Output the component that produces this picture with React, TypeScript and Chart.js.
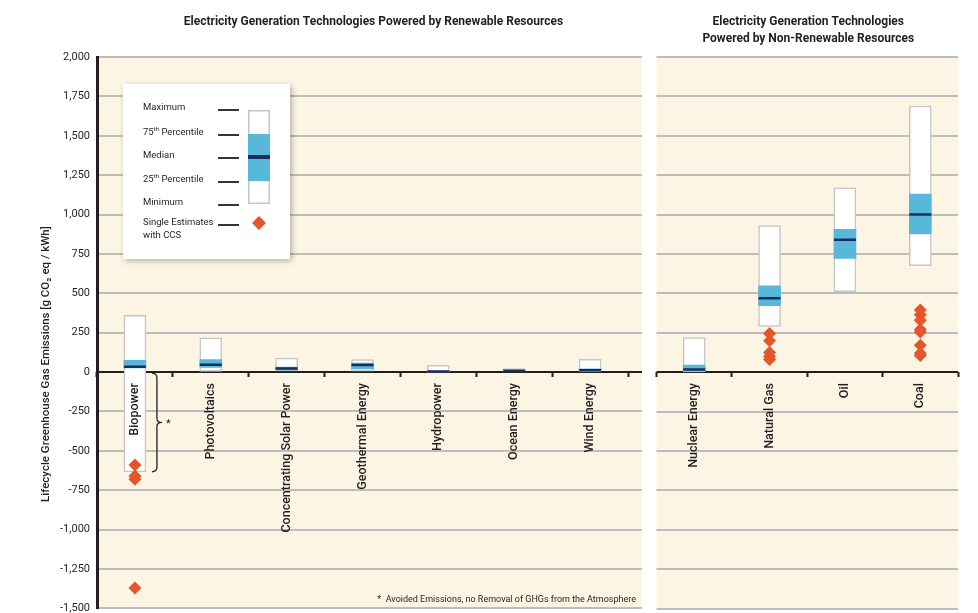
import React, { useEffect, useRef } from "react";
import { Chart, registerables } from "chart.js";
Chart.register(...registerables);

// ---------- data ----------
const renewCats = ["Biopower", "Photovoltaics", "Concentrating Solar Power", "Geothermal Energy", "Hydropower", "Ocean Energy", "Wind Energy"];
const renewMin = [-633, 5, 7, 6, 0, 2, 2];
const renewQ1 = [26, 29, 14, 20, 3, 6, 8];
const renewMed = [34, 46, 22, 45, 4, 8, 12];
const renewQ3 = [74, 80, 32, 57, 7, 9, 20];
const renewMax = [360, 217, 89, 79, 43, 23, 81];
const bioCcs = [-590, -660, -680, -1370];

const nonRenewCats = ["Nuclear Energy", "Natural Gas", "Oil", "Coal"];
const nonRenewMin = [1, 290, 510, 675];
const nonRenewQ1 = [8, 422, 722, 877];
const nonRenewMed = [16, 469, 840, 1001];
const nonRenewQ3 = [45, 548, 907, 1130];
const nonRenewMax = [220, 930, 1170, 1689];
const gasCcs = [245, 200, 125, 100, 80];
const coalCcs = [395, 365, 330, 270, 255, 170, 120, 105];

const yTickValues = [-1500, -1250, -1000, -750, -500, -250, 0, 250, 500, 750, 1000, 1250, 1500, 1750, 2000];
const yMin = -1500;
const yMax = 2000;

const leftTitle = "Electricity Generation Technologies Powered by Renewable Resources";
const rightTitle = ["Electricity Generation Technologies", "Powered by Non-Renewable Resources"];
const yTitle = "Lifecycle Greenhouse Gas Emissions [g CO\u2082 eq / kWh]";
const footnote = "*  Avoided Emissions, no Removal of GHGs from the Atmosphere";

// ---------- style ----------
const FONT = "Roboto, 'Noto Sans', sans-serif";
const CREAM = "#fdf5e4";
const GRID = "#bdbdbd";
const BLUE = "#58b8da";
const NAVY = "#1b2d5a";
const ORANGE = "#e5552a";
const TEXT = "#231f20";
const BOXBORDER = "#c6c6c6";
const CANVAS_H = 622;

function makeDatasets(cats: string[], mins: number[], q1: number[], med: number[], q3: number[], maxs: number[], ccs: { x: string; y: number }[]) {
  return [
    {
      type: "bar" as const,
      data: mins.map((m, i) => [m, maxs[i]]),
      backgroundColor: "#ffffff",
      borderColor: BOXBORDER,
      borderWidth: 1.5,
      borderSkipped: false,
      barThickness: 22,
      grouped: false,
      order: 3,
    },
    {
      type: "bar" as const,
      data: q1.map((v, i) => [v, q3[i]]),
      backgroundColor: BLUE,
      borderWidth: 0,
      barThickness: 22,
      grouped: false,
      order: 2,
    },
    {
      type: "line" as const,
      data: med,
      showLine: false,
      pointStyle: "line",
      pointRadius: 11,
      pointHoverRadius: 11,
      pointBorderWidth: 2.5,
      pointBorderColor: NAVY,
      borderColor: NAVY,
      order: 1,
    },
    {
      type: "line" as const,
      data: ccs,
      showLine: false,
      pointStyle: "rectRot",
      pointRadius: 6.5,
      pointHoverRadius: 6.5,
      pointBackgroundColor: ORANGE,
      pointBorderWidth: 0,
      borderColor: ORANGE,
      order: 0,
    },
  ];
}

function panelBackground(chart: any, ext: number) {
  const { ctx, chartArea: a, scales } = chart;
  const y = scales.y;
  const right = a.right + ext;
  ctx.save();
  ctx.fillStyle = CREAM;
  ctx.fillRect(a.left, a.top, right - a.left, a.bottom - a.top);
  ctx.strokeStyle = GRID;
  ctx.lineWidth = 2;
  yTickValues.forEach((v) => {
    if (v === 0) return;
    const py = Math.round(y.getPixelForValue(v));
    ctx.beginPath();
    ctx.moveTo(a.left, py);
    ctx.lineTo(right, py);
    ctx.stroke();
  });
  const zy = Math.round(y.getPixelForValue(0));
  ctx.strokeStyle = TEXT;
  ctx.lineWidth = 2;
  ctx.beginPath();
  ctx.moveTo(a.left, zy);
  ctx.lineTo(right, zy);
  ctx.stroke();
  ctx.restore();
}

function drawSuperText(ctx: CanvasRenderingContext2D, x: number, y: number, pre: string, sup: string, post: string, size: number) {
  ctx.font = `${size}px ${FONT}`;
  ctx.fillText(pre, x, y);
  let w = ctx.measureText(pre).width;
  ctx.font = `${size * 0.65}px ${FONT}`;
  ctx.fillText(sup, x + w, y - size * 0.35);
  w += ctx.measureText(sup).width;
  ctx.font = `${size}px ${FONT}`;
  ctx.fillText(post, x + w, y);
}

function drawLegend(ctx: CanvasRenderingContext2D, x: number, y: number) {
  ctx.save();
  ctx.shadowColor = "rgba(0,0,0,0.28)";
  ctx.shadowBlur = 6;
  ctx.shadowOffsetX = 2;
  ctx.shadowOffsetY = 2;
  ctx.fillStyle = "#ffffff";
  ctx.fillRect(x, y, 167, 175);
  ctx.restore();

  ctx.save();
  const fs = 9.5;
  ctx.fillStyle = TEXT;
  ctx.textBaseline = "middle";
  ctx.textAlign = "left";
  ctx.font = `${fs}px ${FONT}`;
  const tx = x + 20;
  const rows = [24, 49, 72, 96, 119, 139];
  ctx.fillText("Maximum", tx, y + rows[0]);
  drawSuperText(ctx, tx, y + rows[1], "75", "th", " Percentile", fs);
  ctx.font = `${fs}px ${FONT}`;
  ctx.fillText("Median", tx, y + rows[2]);
  drawSuperText(ctx, tx, y + rows[3], "25", "th", " Percentile", fs);
  ctx.font = `${fs}px ${FONT}`;
  ctx.fillText("Minimum", tx, y + rows[4]);
  ctx.fillText("Single Estimates", tx, y + rows[5]);
  ctx.fillText("with CCS", tx, y + rows[5] + 13);

  ctx.strokeStyle = TEXT;
  ctx.lineWidth = 1.8;
  rows.forEach((r) => {
    ctx.beginPath();
    ctx.moveTo(x + 95, y + r + 2);
    ctx.lineTo(x + 116, y + r + 2);
    ctx.stroke();
  });

  // sample box
  const bx = x + 125, bw = 22;
  ctx.fillStyle = "#ffffff";
  ctx.fillRect(bx, y + 26, bw, 94);
  ctx.strokeStyle = BOXBORDER;
  ctx.lineWidth = 1.5;
  ctx.strokeRect(bx + 0.75, y + 26.75, bw - 1.5, 92.5);
  ctx.fillStyle = BLUE;
  ctx.fillRect(bx, y + 50, bw, 47);
  ctx.fillStyle = NAVY;
  ctx.fillRect(bx, y + 71, bw, 4);

  // diamond
  const dx = x + 136, dy = y + 139, r = 7;
  ctx.fillStyle = ORANGE;
  ctx.beginPath();
  ctx.moveTo(dx, dy - r);
  ctx.lineTo(dx + r, dy);
  ctx.lineTo(dx, dy + r);
  ctx.lineTo(dx - r, dy);
  ctx.closePath();
  ctx.fill();
  ctx.restore();
}

const LEFT_EXT = 14;

const leftDecor = {
  id: "leftDecor",
  beforeDraw(chart: any) {
    panelBackground(chart, LEFT_EXT);
  },
  afterDraw(chart: any) {
    const { ctx, chartArea: a, scales } = chart;
    const x = scales.x, y = scales.y;
    const right = a.right + LEFT_EXT;
    ctx.save();
    // title
    ctx.fillStyle = TEXT;
    ctx.font = `bold 12px ${FONT}`;
    ctx.textAlign = "center";
    ctx.textBaseline = "middle";
    ctx.fillText(leftTitle, (a.left + right) / 2 + 4, 22);
    // y title
    ctx.save();
    ctx.translate(46, 364);
    ctx.rotate(-Math.PI / 2);
    ctx.font = `500 11.5px ${FONT}`;
    ctx.fillText(yTitle, 0, 0);
    ctx.restore();
    // legend
    drawLegend(ctx, a.left + 26, a.top + 27);
    // brace for biopower
    const cx = x.getPixelForValue(0);
    const y0 = y.getPixelForValue(0) + 1;
    const y1 = y.getPixelForValue(renewMin[0]);
    const mid = (y0 + y1) / 2;
    const bx = cx + 22;
    ctx.strokeStyle = TEXT;
    ctx.lineWidth = 1.3;
    ctx.beginPath();
    ctx.moveTo(bx - 5, y0);
    ctx.quadraticCurveTo(bx, y0, bx, y0 + 5);
    ctx.lineTo(bx, mid - 4);
    ctx.quadraticCurveTo(bx, mid, bx + 5, mid);
    ctx.quadraticCurveTo(bx, mid, bx, mid + 4);
    ctx.lineTo(bx, y1 - 5);
    ctx.quadraticCurveTo(bx, y1, bx - 5, y1);
    ctx.stroke();
    ctx.font = `11px ${FONT}`;
    ctx.textAlign = "left";
    ctx.fillText("*", bx + 9, mid + 2);
    // footnote
    ctx.font = `9px ${FONT}`;
    ctx.textAlign = "right";
    ctx.fillText(footnote, right - 6, a.bottom - 9);
    ctx.restore();
  },
};

const rightDecor = {
  id: "rightDecor",
  beforeDraw(chart: any) {
    panelBackground(chart, 0);
  },
  afterDraw(chart: any) {
    const { ctx, chartArea: a } = chart;
    ctx.save();
    ctx.fillStyle = TEXT;
    ctx.font = `bold 12px ${FONT}`;
    ctx.textAlign = "center";
    ctx.textBaseline = "middle";
    const cx = (a.left + a.right) / 2 + 1;
    ctx.fillText(rightTitle[0], cx, 22);
    ctx.fillText(rightTitle[1], cx, 39);
    ctx.restore();
  },
};

function xAxisOptions() {
  return {
    type: "category" as const,
    position: { y: 0 },
    offset: true,
    border: { display: false, z: 1 },
    grid: {
      offset: true,
      z: 1,
      drawOnChartArea: false,
      drawTicks: true,
      tickLength: 5,
      tickColor: TEXT,
      tickWidth: 2,
    },
    ticks: {
      z: 1,
      autoSkip: false,
      minRotation: 90,
      maxRotation: 90,
      padding: 6,
      color: TEXT,
      font: { family: FONT, size: 12.5, weight: "500" as any },
    },
  };
}

function BoxChart(props: { side: "left" | "right" }) {
  const ref = useRef<HTMLCanvasElement | null>(null);
  useEffect(() => {
    if (!ref.current) return;
    const isLeft = props.side === "left";
    const cats = isLeft ? renewCats : nonRenewCats;
    const ccs = isLeft
      ? bioCcs.map((v) => ({ x: renewCats[0], y: v }))
      : [...gasCcs.map((v) => ({ x: nonRenewCats[1], y: v })), ...coalCcs.map((v) => ({ x: nonRenewCats[3], y: v }))];
    const datasets = isLeft
      ? makeDatasets(cats, renewMin, renewQ1, renewMed, renewQ3, renewMax, ccs)
      : makeDatasets(cats, nonRenewMin, nonRenewQ1, nonRenewMed, nonRenewQ3, nonRenewMax, ccs);

    const chart = new Chart(ref.current, {
      type: "bar",
      data: { labels: cats, datasets: datasets as any },
      options: {
        responsive: false,
        animation: false,
        events: [],
        layout: {
          padding: isLeft
            ? { left: 0, top: 57, right: 15, bottom: 6 }
            : { left: 9, top: 57, right: 20, bottom: 6 },
        },
        plugins: { legend: { display: false }, tooltip: { enabled: false }, title: { display: false } },
        scales: {
          x: xAxisOptions() as any,
          y: isLeft
            ? {
                type: "linear",
                position: "left",
                min: yMin,
                max: yMax,
                afterFit: (s: any) => {
                  s.width = 97;
                },
                afterBuildTicks: (s: any) => {
                  s.ticks = yTickValues.map((v) => ({ value: v }));
                },
                border: { display: true, color: TEXT, width: 3 },
                grid: { display: false, drawTicks: false },
                ticks: {
                  padding: 7,
                  color: TEXT,
                  font: { family: FONT, size: 11 },
                  callback: (v: any) => Number(v).toLocaleString("en-US"),
                },
              }
            : {
                type: "linear",
                display: false,
                min: yMin,
                max: yMax,
              },
        } as any,
      },
      plugins: [isLeft ? leftDecor : rightDecor],
    });
    return () => chart.destroy();
  }, [props.side]);

  const isLeft = props.side === "left";
  return (
    <canvas
      ref={ref}
      width={isLeft ? 643 : 335}
      height={CANVAS_H}
      style={{ position: "absolute", left: isLeft ? 0 : 643, top: 0, width: isLeft ? 643 : 335, height: CANVAS_H }}
    />
  );
}

export default function App() {
  return (
    <div style={{ position: "absolute", left: 0, top: 0, width: 978, height: 613, background: "#ffffff", overflow: "hidden" }}>
      <BoxChart side="left" />
      <BoxChart side="right" />
    </div>
  );
}
